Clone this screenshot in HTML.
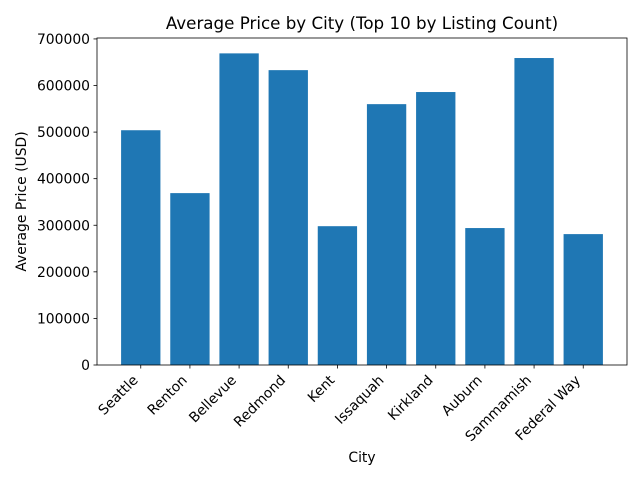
<!DOCTYPE html>
<html><head><meta charset="utf-8"><style>
html,body{margin:0;padding:0;background:#fff;}
svg{display:block;font-family:"DejaVu Sans","Liberation Sans",sans-serif;}
</style></head><body>
<svg id="chart" width="640" height="480"></svg>
<script>
const categories=["Seattle","Renton","Bellevue","Redmond","Kent","Issaquah","Kirkland","Auburn","Sammamish","Federal Way"];
const values=[504000,369000,669000,633000,298000,560000,586000,294000,659000,281000];
const yTicks=[0,100000,200000,300000,400000,500000,600000,700000];
const NS="http://www.w3.org/2000/svg";
const svg=document.getElementById('chart');
const L=97,R=627,T=38,B=365;
const yMax=702000;
const xMin=-0.89,xMax=categories.length-1+0.89;
function xs(i){return L+(i-xMin)/(xMax-xMin)*(R-L);}
function ys(v){return B-v/yMax*(B-T);}
function mk(tag,attrs,parent){const e=document.createElementNS(NS,tag);for(const k in attrs)e.setAttribute(k,attrs[k]);(parent||svg).appendChild(e);return e;}
const bw=0.8*(R-L)/(xMax-xMin);
values.forEach((v,i)=>{
  const r=mk('rect',{x:xs(i)-bw/2,y:ys(v),width:bw,height:B-ys(v),fill:'#1f77b4'});
  
  
});
const frame=mk('rect',{x:L,y:T,width:R-L,height:B-T,fill:'none',stroke:'#000','stroke-width':0.8});


yTicks.forEach(t=>{
  const y=ys(t);
  mk('line',{x1:L-3.5,x2:L,y1:y,y2:y,stroke:'#000','stroke-width':0.8});
  const tx=mk('text',{x:L-7,y:y+5,'text-anchor':'end','font-size':13.9});
  tx.textContent=t;
  
  
});
categories.forEach((c,i)=>{
  const x=xs(i);
  mk('line',{x1:x,x2:x,y1:B,y2:B+3.5,stroke:'#000','stroke-width':0.8});
  const ax=x-2,ay=B+16;
  const tx=mk('text',{x:ax,y:ay,'text-anchor':'end','font-size':13.9,transform:`rotate(-45 ${ax} ${ay})`});
  tx.textContent=c;
  
  
});
const title=mk('text',{x:(L+R)/2,y:29,'text-anchor':'middle','font-size':16.7});
title.textContent='Average Price by City (Top 10 by Listing Count)';


const xl=mk('text',{x:(L+R)/2,y:462,'text-anchor':'middle','font-size':13.9});
xl.textContent='City';


const yl=mk('text',{x:26,y:(T+B)/2,'text-anchor':'middle','font-size':13.9,transform:`rotate(-90 26 ${(T+B)/2})`});
yl.textContent='Average Price (USD)';


</script>
</body></html>
